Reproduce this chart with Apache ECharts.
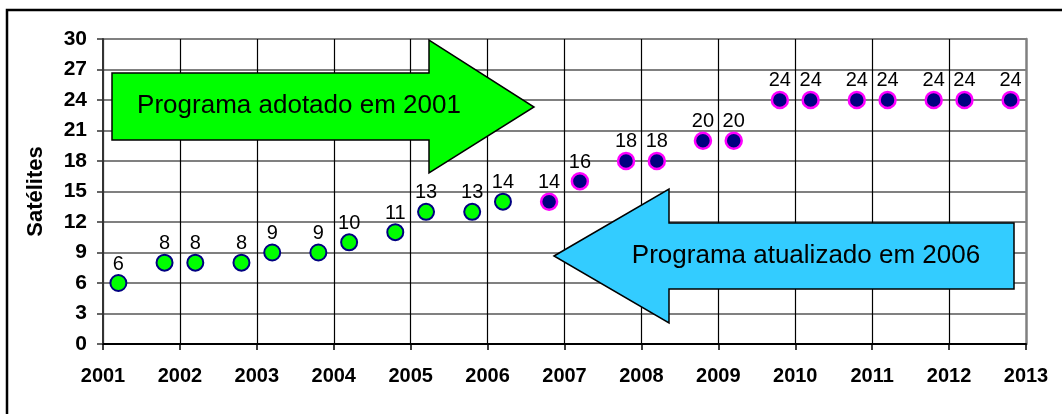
<!DOCTYPE html>
<html>
<head>
<meta charset="utf-8">
<script src="https://cdn.jsdelivr.net/npm/echarts@6/dist/echarts.min.js"></script>
<style>
html,body{margin:0;padding:0;background:#fff;}
#c{width:1062px;height:414px;}
</style>
</head>
<body>
<div id="c"></div>
<script>
// Data
const timesAdopted = [2001.2, 2001.8, 2002.2, 2002.8, 2003.2, 2003.8, 2004.2, 2004.8, 2005.2, 2005.8, 2006.2];
const satsAdopted  = [6, 8, 8, 8, 9, 9, 10, 11, 13, 13, 14];
const timesUpdated = [2006.8, 2007.2, 2007.8, 2008.2, 2008.8, 2009.2, 2009.8, 2010.2, 2010.8, 2011.2, 2011.8, 2012.2, 2012.8];
const satsUpdated  = [14, 16, 18, 18, 20, 20, 24, 24, 24, 24, 24, 24, 24];
const xTickLabels = ['2001','2002','2003','2004','2005','2006','2007','2008','2009','2010','2011','2012','2013'];
const yTickLabels = ['0','3','6','9','12','15','18','21','24','27','30'];
const yAxisName = 'Satélites';
const arrowText1 = 'Programa adotado em 2001';
const arrowText2 = 'Programa atualizado em 2006';

const FONT = '"Liberation Sans", Arial, sans-serif';
const chart = echarts.init(document.getElementById('c'), null, {renderer: 'canvas'});

function pairs(xs, ys) { return xs.map((x, i) => [x, ys[i]]); }

const labelStyle = {
  show: true, position: 'top', distance: 0,
  color: '#000', fontFamily: FONT, fontSize: 20,
  formatter: p => String(p.value[1])
};

chart.setOption({
  animation: false,
  backgroundColor: '#fff',
  grid: {left: 103, top: 39, right: 36, bottom: 70, containLabel: false},
  xAxis: {
    type: 'value', min: 2001, max: 2013, interval: 1,
    axisLine: {show: true, onZero: false, lineStyle: {color: '#000', width: 2}},
    axisTick: {show: true, length: 6, lineStyle: {color: '#000', width: 1.5}},
    axisLabel: {
      margin: 22, color: '#000', fontFamily: FONT, fontSize: 20, fontWeight: 'bold',
      formatter: v => xTickLabels[Math.round(v - 2001)]
    },
    splitLine: {show: true, showMaxLine: false, lineStyle: {color: '#000', width: 1.2}}
  },
  yAxis: [{
    type: 'value', min: 0, max: 30, interval: 3,
    name: yAxisName, nameLocation: 'middle', nameGap: 56, nameRotate: 90,
    nameTextStyle: {color: '#000', fontFamily: FONT, fontSize: 22, fontWeight: 'bold'},
    axisLine: {show: true, lineStyle: {color: '#333', width: 2}},
    axisTick: {show: true, length: 6, lineStyle: {color: '#333', width: 1.5}},
    axisLabel: {
      margin: 16, color: '#000', fontFamily: FONT, fontSize: 21, fontWeight: 'bold',
      formatter: v => yTickLabels[Math.round(v / 3)]
    },
    splitLine: {show: true, lineStyle: {color: '#808080', width: 2}}
  }, {
    type: 'value', min: 0, max: 30, interval: 3, position: 'right',
    axisLine: {show: true, lineStyle: {color: '#808080', width: 2.5}},
    axisTick: {show: false}, axisLabel: {show: false}, splitLine: {show: false}
  }],
  series: [{
    type: 'scatter', data: pairs(timesAdopted, satsAdopted),
    symbol: 'circle', symbolSize: 16,
    itemStyle: {color: '#00ff00', borderColor: '#000080', borderWidth: 2, opacity: 1},
    label: labelStyle, z: 5
  }, {
    type: 'scatter', data: pairs(timesUpdated, satsUpdated),
    symbol: 'circle', symbolSize: 16,
    itemStyle: {color: '#000080', borderColor: '#ff00ff', borderWidth: 2.5, opacity: 1},
    label: labelStyle, z: 5
  }],
  graphic: [
    {type: 'rect', shape: {x: 7, y: 10, width: 1200, height: 600}, silent: true,
     style: {fill: 'none', stroke: '#000', lineWidth: 2.5}, z: 1},
    {type: 'polygon', z: 20,
     shape: {points: [[112,73],[429,73],[429,40],[534,107],[429,173],[429,140],[112,140]]},
     style: {fill: '#00ff00', stroke: '#000', lineWidth: 1.5}},
    {type: 'text', z: 21, x: 299, y: 106,
     style: {text: arrowText1, fill: '#000', font: '26px ' + FONT, align: 'center', verticalAlign: 'middle'}},
    {type: 'polygon', z: 20,
     shape: {points: [[554,256],[669,189],[669,223],[1014,223],[1014,289],[669,289],[669,323]]},
     style: {fill: '#33ccff', stroke: '#000', lineWidth: 1.5}},
    {type: 'text', z: 21, x: 806, y: 256,
     style: {text: arrowText2, fill: '#000', font: '26px ' + FONT, align: 'center', verticalAlign: 'middle'}}
  ]
});
</script>
</body>
</html>
